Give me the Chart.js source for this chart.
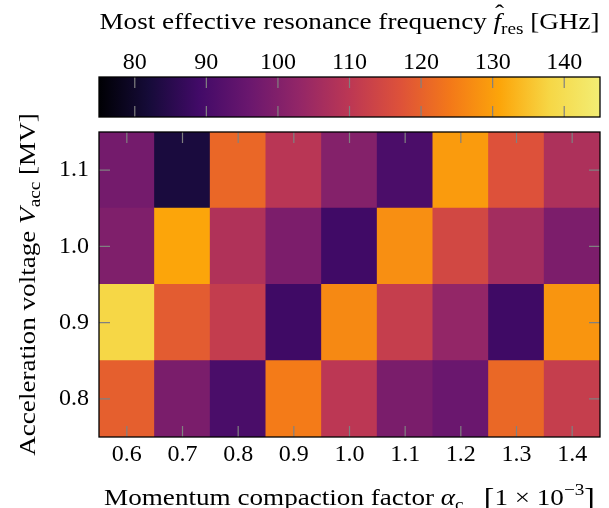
<!DOCTYPE html>
<html>
<head>
<meta charset="utf-8">
<script src="https://cdn.jsdelivr.net/npm/chart.js@4.4.1/dist/chart.umd.min.js"></script>
<style>
  body { margin: 0; background: #fff; }
  #wrap { position: relative; width: 609px; height: 508px; }
  canvas { position: absolute; left: 0; top: 0; }
</style>
</head>
<body>
<div id="wrap">
  <canvas id="heat" width="609" height="508"></canvas>
  <canvas id="cbar" width="609" height="508"></canvas>
</div>
<script>
// momentum compaction factor (x) and acceleration voltage (y)
const alphaC = ['0.6', '0.7', '0.8', '0.9', '1.0', '1.1', '1.2', '1.3', '1.4']
const vAcc = [0.8, 0.9, 1.0, 1.1]

// most effective resonance frequency in GHz, one list per voltage
const fRes08 = [119.5, 98.8, 90.4, 124.5, 110, 98.8, 96, 121.2, 112]
const fRes09 = [138, 119, 111.5, 88.5, 126.7, 112, 103, 88.5, 128.5]
const fRes10 = [99.5, 131, 108, 99, 88.7, 127.5, 114.5, 105.8, 99]
const fRes11 = [97.7, 82.7, 121, 109.5, 100.5, 90.5, 129.5, 117, 107.5]

const colorTicks = [80, 90, 100, 110, 120, 130, 140]
const fMin = 75
const fMax = 145

// inferno, sampled in steps of 0.1
const inferno = ['#000004', '#160b39', '#420a68', '#6a176e', '#932667', '#bc3754',
  '#dd513a', '#f37819', '#fca50a', '#f6d746', '#f2ed74']

const FONT = '"Liberation Serif", "DejaVu Serif", serif'
const tickFont = { family: FONT, size: 24 }
const STRETCH = 1.13

function hexToRgb(h) {
  return [1, 3, 5].map(i => parseInt(h.substr(i, 2), 16))
}

function colorOf(f) {
  let t = (f - fMin) / (fMax - fMin)
  t = Math.max(0, Math.min(1, t)) * (inferno.length - 1)
  const i = Math.min(Math.floor(t), inferno.length - 2)
  const a = hexToRgb(inferno[i]), b = hexToRgb(inferno[i + 1])
  const k = t - i
  const c = a.map((v, j) => Math.round(v + (b[j] - v) * k))
  return 'rgb(' + c.join(',') + ')'
}

// text with italic, sub- and superscript pieces
function drawRich(ctx, parts, x, y, rot) {
  ctx.save()
  ctx.translate(x, y)
  ctx.rotate(rot || 0)
  ctx.scale(STRETCH, 1)
  ctx.textBaseline = 'alphabetic'
  ctx.fillStyle = '#000'
  const fontOf = p => (p.it ? 'italic ' : '') + (p.size || 24) + 'px ' + FONT
  let w = 0
  parts.forEach(p => { ctx.font = fontOf(p); p.w = ctx.measureText(p.t).width; w += p.w })
  let cx = -w / 2
  parts.forEach(p => {
    ctx.font = fontOf(p)
    ctx.textAlign = 'left'
    ctx.fillText(p.t, cx, p.dy || 0)
    if (p.hat) {
      ctx.font = '24px ' + FONT
      ctx.textAlign = 'center'
      ctx.fillText('\u02c6', cx + p.w / 2 + 2, -8)
    }
    cx += p.w
  })
  ctx.restore()
}

const cbarTitle = [{ t: 'Most effective resonance frequency ' }, { t: 'f', it: true, hat: true },
  { t: 'res', size: 17, dy: 5 }, { t: ' [GHz]' }]
const xTitle = [{ t: 'Momentum compaction factor ' }, { t: '\u03b1', it: true }, { t: 'c', size: 17, dy: 5 },
  { t: '   ' }, { t: '[', size: 28, dy: 2 }, { t: '1 \u00d7 10' }, { t: '\u22123', size: 17, dy: -10 },
  { t: ']', size: 28, dy: 2 }]
const yTitle = [{ t: 'Acceleration voltage ' }, { t: 'V', it: true }, { t: 'acc', size: 17, dy: 5 }, { t: ' [MV]' }]

// inner tick marks, frame and axis titles of the heatmap
const heatFrame = {
  id: 'heatFrame',
  afterDatasetsDraw(chart) {
    const { ctx, chartArea: a, scales: { x, y } } = chart
    ctx.save()
    ctx.strokeStyle = '#808080'
    ctx.lineWidth = 1.2
    ctx.beginPath()
    x.ticks.forEach((t, i) => {
      const px = x.getPixelForTick(i)
      ctx.moveTo(px, a.top); ctx.lineTo(px, a.top + 11)
      ctx.moveTo(px, a.bottom); ctx.lineTo(px, a.bottom - 11)
    })
    y.ticks.forEach(t => {
      const py = y.getPixelForValue(t.value)
      ctx.moveTo(a.left, py); ctx.lineTo(a.left + 11, py)
      ctx.moveTo(a.right, py); ctx.lineTo(a.right - 11, py)
    })
    ctx.stroke()
    ctx.strokeStyle = '#000'
    ctx.lineWidth = 1.3
    ctx.strokeRect(a.left, a.top, a.right - a.left, a.bottom - a.top)
    ctx.restore()
    drawRich(ctx, xTitle, (a.left + a.right) / 2, 505, 0)
    drawRich(ctx, yTitle, 35, (a.top + a.bottom) / 2, -Math.PI / 2)
  }
}

const rows = [[vAcc[0], fRes08], [vAcc[1], fRes09], [vAcc[2], fRes10], [vAcc[3], fRes11]]
const half = (vAcc[1] - vAcc[0]) / 2

new Chart(document.getElementById('heat'), {
  type: 'bar',
  data: {
    labels: alphaC,
    datasets: rows.map(([v, f]) => ({
      data: alphaC.map(() => [v - half, v + half]),
      backgroundColor: f.map(colorOf)
    }))
  },
  options: {
    responsive: false,
    animation: false,
    layout: { padding: { top: 132, right: 9, left: 0, bottom: 0 } },
    plugins: { legend: { display: false }, tooltip: { enabled: false } },
    datasets: {
      bar: { grouped: false, barPercentage: 1, categoryPercentage: 1, borderWidth: 0, inflateAmount: 0.5 }
    },
    scales: {
      x: {
        grid: { display: false, drawTicks: false },
        border: { display: false },
        ticks: { font: tickFont, color: '#000', padding: 3, maxRotation: 0 },
        afterFit: s => { s.height = 71 }
      },
      y: {
        type: 'linear',
        min: vAcc[0] - half,
        max: vAcc[vAcc.length - 1] + half,
        afterBuildTicks: s => { s.ticks = vAcc.map(v => ({ value: v })) },
        grid: { display: false, drawTicks: false },
        border: { display: false },
        ticks: { font: tickFont, color: '#000', padding: 10, callback: v => v.toFixed(1) },
        afterFit: s => { s.width = 99 }
      }
    }
  },
  plugins: [heatFrame]
})

// colour bar on top
const cbarFrame = {
  id: 'cbarFrame',
  afterDatasetsDraw(chart) {
    const { ctx, chartArea: a, scales: { x } } = chart
    ctx.save()
    ctx.strokeStyle = '#808080'
    ctx.lineWidth = 1.2
    ctx.beginPath()
    x.ticks.forEach(t => {
      const px = x.getPixelForValue(t.value)
      ctx.moveTo(px, a.top); ctx.lineTo(px, a.top + 11)
      ctx.moveTo(px, a.bottom); ctx.lineTo(px, a.bottom - 11)
    })
    ctx.stroke()
    ctx.strokeStyle = '#000'
    ctx.lineWidth = 1.3
    ctx.strokeRect(a.left, a.top, a.right - a.left, a.bottom - a.top)
    ctx.restore()
    drawRich(ctx, cbarTitle, (a.left + a.right) / 2, 29, 0)
  }
}

new Chart(document.getElementById('cbar'), {
  type: 'bar',
  data: {
    labels: [''],
    datasets: [{
      data: [[fMin, fMax]],
      borderWidth: 0,
      backgroundColor: c => {
        const chart = c.chart
        if (!chart.chartArea) return '#000'
        const sx = chart.scales.x
        const g = chart.ctx.createLinearGradient(sx.getPixelForValue(fMin), 0, sx.getPixelForValue(fMax), 0)
        inferno.forEach((col, i) => g.addColorStop(i / (inferno.length - 1), col))
        return g
      }
    }]
  },
  options: {
    indexAxis: 'y',
    responsive: false,
    animation: false,
    layout: { padding: { top: 0, bottom: 391, left: 99, right: 9 } },
    plugins: { legend: { display: false }, tooltip: { enabled: false } },
    datasets: { bar: { barPercentage: 1, categoryPercentage: 1 } },
    scales: {
      x: {
        type: 'linear',
        position: 'top',
        min: fMin,
        max: fMax,
        afterBuildTicks: s => { s.ticks = colorTicks.map(v => ({ value: v })) },
        grid: { display: false, drawTicks: false },
        border: { display: false },
        ticks: { font: tickFont, color: '#000', padding: 0, maxRotation: 0, autoSkip: false },
        afterFit: s => { s.height = 77 }
      },
      y: { display: false }
    }
  },
  plugins: [cbarFrame]
})
</script>
</body>
</html>
